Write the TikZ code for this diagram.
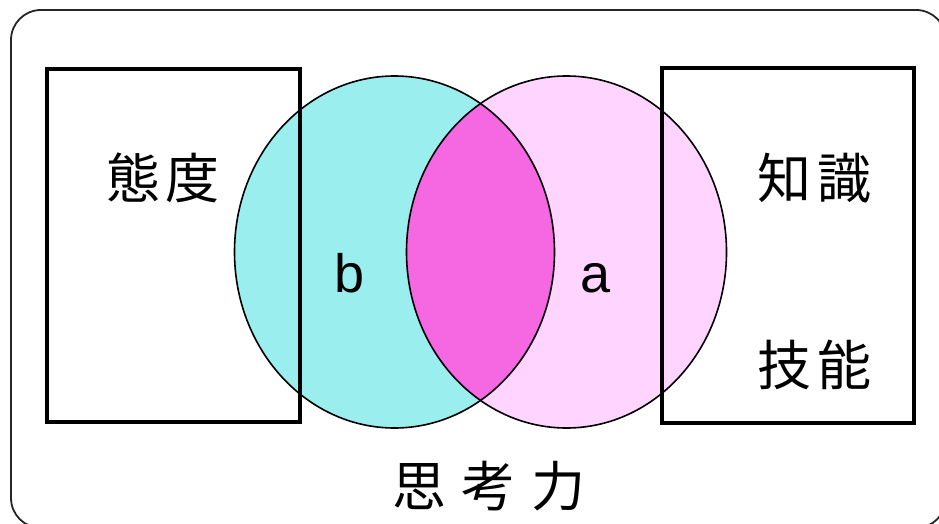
\documentclass[tikz,border=0pt]{standalone}
\usepackage{fontspec}
\newfontfamily\jpfont{Noto Sans CJK JP}
\newfontfamily\lsfont{Liberation Sans}
\definecolor{cyanfill}{RGB}{155,238,238}
\definecolor{pinkfill}{RGB}{255,213,255}
\definecolor{magfill}{RGB}{245,104,226}
\tikzset{
  boxline/.style={draw=black, line width=3.5pt},
  ringline/.style={draw=black, line width=1.6pt},
  jplabel/.style={font=\jpfont\fontsize{54}{60}\selectfont, inner sep=0pt},
  letterlabel/.style={font=\lsfont\fontsize{54}{60}\selectfont, inner sep=0pt}
}
\begin{document}
\begin{tikzpicture}[x=1pt,y=-1pt]
\useasboundingbox (0,0) rectangle (939,524);
\clip (0,0) rectangle (939,524);
\fill[white] (0,0) rectangle (939,524);
% outer frame
\draw[black!85, line width=1.8pt, rounded corners=30pt] (11,10) rectangle (946,528);
% circles fills
\fill[cyanfill] (394.5,252) ellipse [x radius=160, y radius=176];
\fill[pinkfill] (566.5,252) ellipse [x radius=160, y radius=176];
\begin{scope}
  \clip (394.5,252) ellipse [x radius=160, y radius=176];
  \fill[magfill] (566.5,252) ellipse [x radius=160, y radius=176];
\end{scope}
\draw[ringline] (394.5,252) ellipse [x radius=160, y radius=176];
\draw[ringline] (566.5,252) ellipse [x radius=160, y radius=176];
% boxes
\draw[boxline] (47,69) rectangle (300,422);
\draw[boxline] (662,68) rectangle (914,423);
% labels
\node[jplabel] (taido) at (163,178) {態\hspace{6pt}度};
\node[jplabel] (chishiki) at (814,178) {知\hspace{6pt}識};
\node[jplabel] (gino) at (814,365) {技\hspace{6pt}能};
\node[jplabel] (shikoryoku) at (489,486) {思\hspace{16pt}考\hspace{16pt}力};
\node[letterlabel, anchor=base] (b) at (350,292) {b};
\node[letterlabel, anchor=base] (a) at (596,292) {a};
\end{tikzpicture}
\end{document}
